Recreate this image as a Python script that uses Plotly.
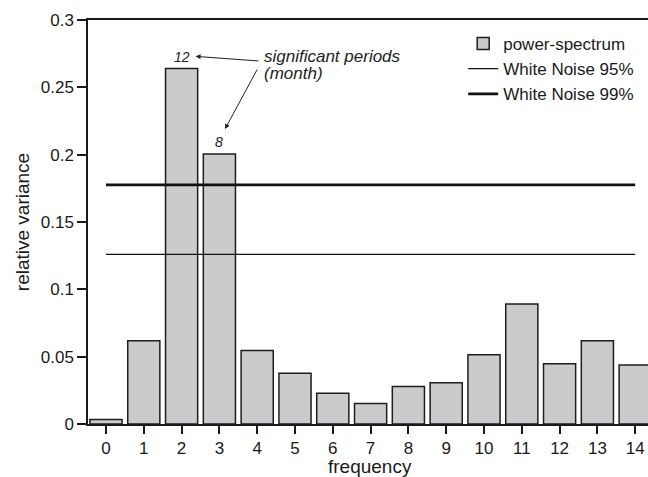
import plotly.graph_objects as go

frequency = list(range(15))
power = [0.0033, 0.0619, 0.264, 0.2005, 0.0545, 0.0376, 0.0228, 0.0152, 0.0278, 0.0307,
         0.0515, 0.0891, 0.0448, 0.0619, 0.0438]
wn95 = 0.1259
wn99 = 0.1775
line_x = [0, 14]
ytick_vals = [0, 0.05, 0.1, 0.15, 0.2, 0.25, 0.3]
ytick_text = ["0", "0.05", "0.1", "0.15", "0.2", "0.25", "0.3"]

FONT = "Liberation Sans, Arial, Helvetica, sans-serif"

fig = go.Figure()
fig.add_trace(go.Bar(
    x=frequency, y=power, width=0.85, name="power-spectrum",
    marker=dict(color="#cbcbcd", line=dict(color="#1e1e1e", width=1.5)),
    legendgroup="a",
))
fig.add_trace(go.Scatter(
    x=line_x, y=[wn95, wn95], mode="lines", name="White Noise 95%",
    line=dict(color="#111111", width=1.2), legendgroup="b",
))
fig.add_trace(go.Scatter(
    x=line_x, y=[wn99, wn99], mode="lines", name="White Noise 99%",
    line=dict(color="#111111", width=2.8), legendgroup="c",
))

small_font = dict(family=FONT, size=14, color="#222222")
big_font = dict(family=FONT, size=17, color="#222222")
fig.add_annotation(x=2, y=0.2722, text="<i>12</i>", showarrow=False, font=small_font,
                   xanchor="center", yanchor="middle")
fig.add_annotation(x=3, y=0.2092, text="<i>8</i>", showarrow=False, font=small_font,
                   xanchor="center", yanchor="middle")
fig.add_annotation(x=4.12, y=0.2728, text="<i>significant periods</i>", showarrow=False,
                   font=big_font, xanchor="left", yanchor="middle")
fig.add_annotation(x=4.12, y=0.2604, text="<i>(month)</i>", showarrow=False,
                   font=big_font, xanchor="left", yanchor="middle")
fig.add_annotation(x=2.37, y=0.273, ax=4.074, ay=0.2695, axref="x", ayref="y", text="",
                   showarrow=True, arrowhead=2, arrowsize=1, arrowwidth=1, arrowcolor="#222222")
fig.add_annotation(x=3.148, y=0.219, ax=4.02, ay=0.2643, axref="x", ayref="y", text="",
                   showarrow=True, arrowhead=2, arrowsize=1, arrowwidth=1, arrowcolor="#222222")
# x-axis title placed as annotation for exact vertical position
fig.add_annotation(xref="paper", yref="paper", x=0.503, y=-0.104, text="frequency",
                   showarrow=False, font=dict(family=FONT, size=19, color="#1a1a1a"),
                   xanchor="center", yanchor="middle")

fig.update_layout(
    width=648, height=477,
    margin=dict(l=88, r=0, t=20, b=53),
    paper_bgcolor="white", plot_bgcolor="white",
    font=dict(family=FONT, size=17, color="#1a1a1a"),
    bargap=0.15,
    legend=dict(x=0.670, y=0.985, xanchor="left", yanchor="top",
                font=dict(family=FONT, size=17, color="#1a1a1a"),
                bgcolor="rgba(0,0,0,0)", itemwidth=30, tracegroupgap=0,
                traceorder="grouped"),
    showlegend=True,
)
fig.update_xaxes(
    range=[-0.476, 14.339], tickvals=frequency, ticktext=[str(f) for f in frequency],
    showline=True, linecolor="#1a1a1a", linewidth=1.5, mirror=True,
    ticks="outside", ticklen=8, tickwidth=1.5, tickcolor="#1a1a1a",
    showgrid=False, zeroline=False,
    tickfont=dict(size=17),
)
fig.update_yaxes(
    range=[0, 0.3], tickvals=ytick_vals, ticktext=ytick_text,
    showline=True, linecolor="#1a1a1a", linewidth=1.5,
    ticks="outside", ticklen=9, tickwidth=1.5, tickcolor="#1a1a1a",
    showgrid=False, zeroline=False,
    title=dict(text="relative variance", font=dict(family=FONT, size=19), standoff=6),
    tickfont=dict(size=17),
)

fig.write_html("out.html")
